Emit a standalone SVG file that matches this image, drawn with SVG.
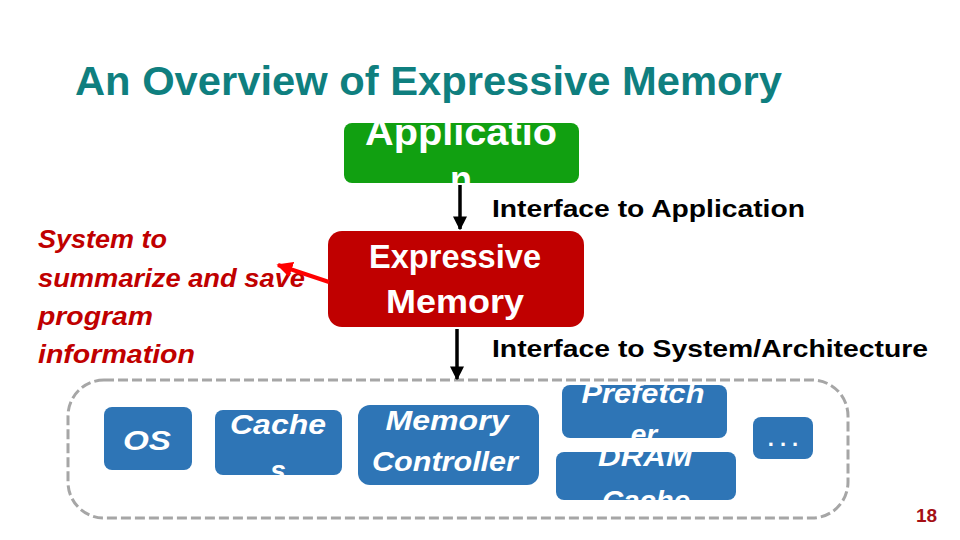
<svg xmlns="http://www.w3.org/2000/svg" width="960" height="540" viewBox="0 0 960 540">
<defs>
<style>
.t{font-family:"Liberation Sans",Arial,sans-serif;font-weight:bold}
.wt{fill:#fff;text-anchor:middle}
.it{font-style:italic}
.blue{fill:#2e75b6}
.lbl{fill:#000;font-size:24px}
</style>
<marker id="ab" viewBox="0 0 10 10" refX="9" refY="5" markerWidth="4" markerHeight="4" orient="auto" markerUnits="strokeWidth"><path d="M0,0 L10,5 L0,10 z" fill="#000"/></marker>
<marker id="ar" viewBox="0 0 10 10" refX="9" refY="5" markerWidth="4" markerHeight="4" orient="auto" markerUnits="strokeWidth"><path d="M0,0 L10,5 L0,10 z" fill="#ff0000"/></marker>
<clipPath id="cApp"><rect x="344" y="123" width="235" height="60" rx="8"/></clipPath>
<clipPath id="cCache"><rect x="215" y="410" width="127" height="65" rx="8"/></clipPath>
<clipPath id="cPref"><rect x="562" y="385" width="165" height="53" rx="8"/></clipPath>
<clipPath id="cDram"><rect x="556" y="452" width="180" height="48" rx="8"/></clipPath>
</defs>
<rect width="960" height="540" fill="#fff"/>
<text class="t" x="75" y="95" font-size="40" fill="#0f7f7f" textLength="707" lengthAdjust="spacingAndGlyphs">An Overview of Expressive Memory</text>

<g id="container">
<rect x="68" y="380" width="780" height="138" rx="36" fill="none" stroke="#a6a6a6" stroke-width="3" stroke-dasharray="10,4"/>
</g>

<g id="application">
<rect x="344" y="123" width="235" height="60" rx="8" fill="#11a011"/>
<g clip-path="url(#cApp)">
<text class="t wt" x="461" y="145" font-size="36" textLength="192" lengthAdjust="spacingAndGlyphs">Applicatio</text>
<text class="t wt" x="461" y="192" font-size="36">n</text>
</g>
</g>

<g id="expressive">
<rect x="328" y="231" width="256" height="96" rx="14" fill="#c00000"/>
<text class="t wt" x="455" y="268" font-size="33" textLength="172" lengthAdjust="spacingAndGlyphs">Expressive</text>
<text class="t wt" x="455" y="313" font-size="33" textLength="138" lengthAdjust="spacingAndGlyphs">Memory</text>
</g>

<g id="summary-note">
<text class="t it" font-size="26" fill="#c00000">
<tspan x="38" y="248" textLength="129" lengthAdjust="spacingAndGlyphs">System to</tspan>
<tspan x="38" y="287" textLength="267" lengthAdjust="spacingAndGlyphs">summarize and save</tspan>
<tspan x="38" y="325" textLength="115" lengthAdjust="spacingAndGlyphs">program</tspan>
<tspan x="38" y="363" textLength="157" lengthAdjust="spacingAndGlyphs">information</tspan>
</text>
</g>

<g id="labels">
<text class="t lbl" x="492" y="217" textLength="313" lengthAdjust="spacingAndGlyphs">Interface to Application</text>
<text class="t lbl" x="492" y="357" textLength="436" lengthAdjust="spacingAndGlyphs">Interface to System/Architecture</text>
</g>

<g id="os">
<rect class="blue" x="104" y="407" width="88" height="63" rx="8"/>
<text class="t wt it" x="147" y="450" font-size="28" textLength="48" lengthAdjust="spacingAndGlyphs">OS</text>
</g>

<g id="caches">
<rect class="blue" x="215" y="410" width="127" height="65" rx="8"/>
<g clip-path="url(#cCache)">
<text class="t wt it" x="278" y="434" font-size="28" textLength="96" lengthAdjust="spacingAndGlyphs">Cache</text>
<text class="t wt it" x="278" y="480" font-size="28">s</text>
</g>
</g>

<g id="memctrl">
<rect class="blue" x="358" y="405" width="181" height="80" rx="12"/>
<text class="t wt it" x="447" y="430" font-size="28" textLength="123" lengthAdjust="spacingAndGlyphs">Memory</text>
<text class="t wt it" x="445" y="471" font-size="28" textLength="146" lengthAdjust="spacingAndGlyphs">Controller</text>
</g>

<g id="prefetcher">
<rect class="blue" x="562" y="385" width="165" height="53" rx="8"/>
<g clip-path="url(#cPref)">
<text class="t wt it" x="643" y="403" font-size="28" textLength="123" lengthAdjust="spacingAndGlyphs">Prefetch</text>
<text class="t wt it" x="644" y="444" font-size="28">er</text>
</g>
</g>

<g id="dramcache">
<rect class="blue" x="556" y="452" width="180" height="48" rx="8"/>
<g clip-path="url(#cDram)">
<text class="t wt it" x="645" y="466" font-size="28" textLength="94" lengthAdjust="spacingAndGlyphs">DRAM</text>
<text class="t wt it" x="646" y="510" font-size="28" textLength="88" lengthAdjust="spacingAndGlyphs">Cache</text>
</g>
</g>

<g id="more">
<rect class="blue" x="753" y="417" width="60" height="42" rx="8"/>
<text class="t wt" x="786" y="446" font-size="22" letter-spacing="6">...</text>
</g>

<g id="connectors">
<line x1="460" y1="185" x2="460" y2="229" stroke="#000" stroke-width="3.5" marker-end="url(#ab)"/>
<line x1="457" y1="329" x2="457" y2="379" stroke="#000" stroke-width="3.5" marker-end="url(#ab)"/>
<line x1="329" y1="282" x2="278" y2="265" stroke="#ff0000" stroke-width="4" marker-end="url(#ar)"/>
</g>

<text class="t" x="916" y="522" font-size="19" fill="#a50f15">18</text>
</svg>
